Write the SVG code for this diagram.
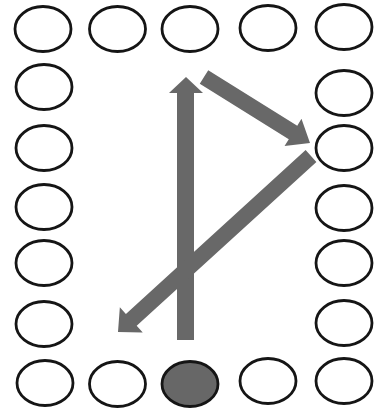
<svg xmlns="http://www.w3.org/2000/svg" width="374" height="412" viewBox="0 0 374 412">
<style>
.n{fill:#fff;stroke:#151515;stroke-width:2.8}
.f{fill:#676767;stroke:#151515;stroke-width:2.8}
.a{fill:#686868;stroke:none}
</style>
<rect width="374" height="412" fill="#fff"/>
<g id="n1"><ellipse class="n" cx="43" cy="29" rx="28" ry="22.5"/></g>
<g id="n2"><ellipse class="n" cx="117.5" cy="29" rx="28" ry="22.5"/></g>
<g id="n3"><ellipse class="n" cx="190" cy="29" rx="28" ry="22.5"/></g>
<g id="n4"><ellipse class="n" cx="268" cy="28" rx="28" ry="22.5"/></g>
<g id="n5"><ellipse class="n" cx="344" cy="27" rx="28" ry="22.5"/></g>
<g id="n6"><ellipse class="n" cx="44" cy="87" rx="28" ry="22.5"/></g>
<g id="n7"><ellipse class="n" cx="44" cy="148" rx="28" ry="22.5"/></g>
<g id="n8"><ellipse class="n" cx="44" cy="207" rx="28" ry="22.5"/></g>
<g id="n9"><ellipse class="n" cx="44" cy="263" rx="28" ry="22.5"/></g>
<g id="n10"><ellipse class="n" cx="44" cy="324" rx="28" ry="22.5"/></g>
<g id="n11"><ellipse class="n" cx="344" cy="93" rx="28" ry="22.5"/></g>
<g id="n12"><ellipse class="n" cx="344" cy="148" rx="28" ry="22.5"/></g>
<g id="n13"><ellipse class="n" cx="344" cy="208" rx="28" ry="22.5"/></g>
<g id="n14"><ellipse class="n" cx="344" cy="263" rx="28" ry="22.5"/></g>
<g id="n15"><ellipse class="n" cx="344" cy="323" rx="28" ry="22.5"/></g>
<g id="n16"><ellipse class="n" cx="45" cy="383" rx="28" ry="22.5"/></g>
<g id="n17"><ellipse class="n" cx="117.5" cy="384" rx="28" ry="22.5"/></g>
<g id="n18"><ellipse class="f" cx="190" cy="384" rx="28" ry="22.5"/></g>
<g id="n19"><ellipse class="n" cx="268" cy="381" rx="28" ry="22.5"/></g>
<g id="n20"><ellipse class="n" cx="344" cy="381" rx="28" ry="22.5"/></g>
<g id="connectors">
<polygon class="a" points="177,340 194,340 194,93 203,93 186,77 169,93 177,93"/>
<polygon class="a" points="208.23,70.21 297.25,125.63 301.48,118.84 310,143 284.56,146 288.79,139.21 199.77,83.79"/>
<polygon class="a" points="316.39,161.91 136.69,325.78 142.75,332.43 118,332 119.85,307.31 125.91,313.96 305.61,150.09"/>
</g>
</svg>
